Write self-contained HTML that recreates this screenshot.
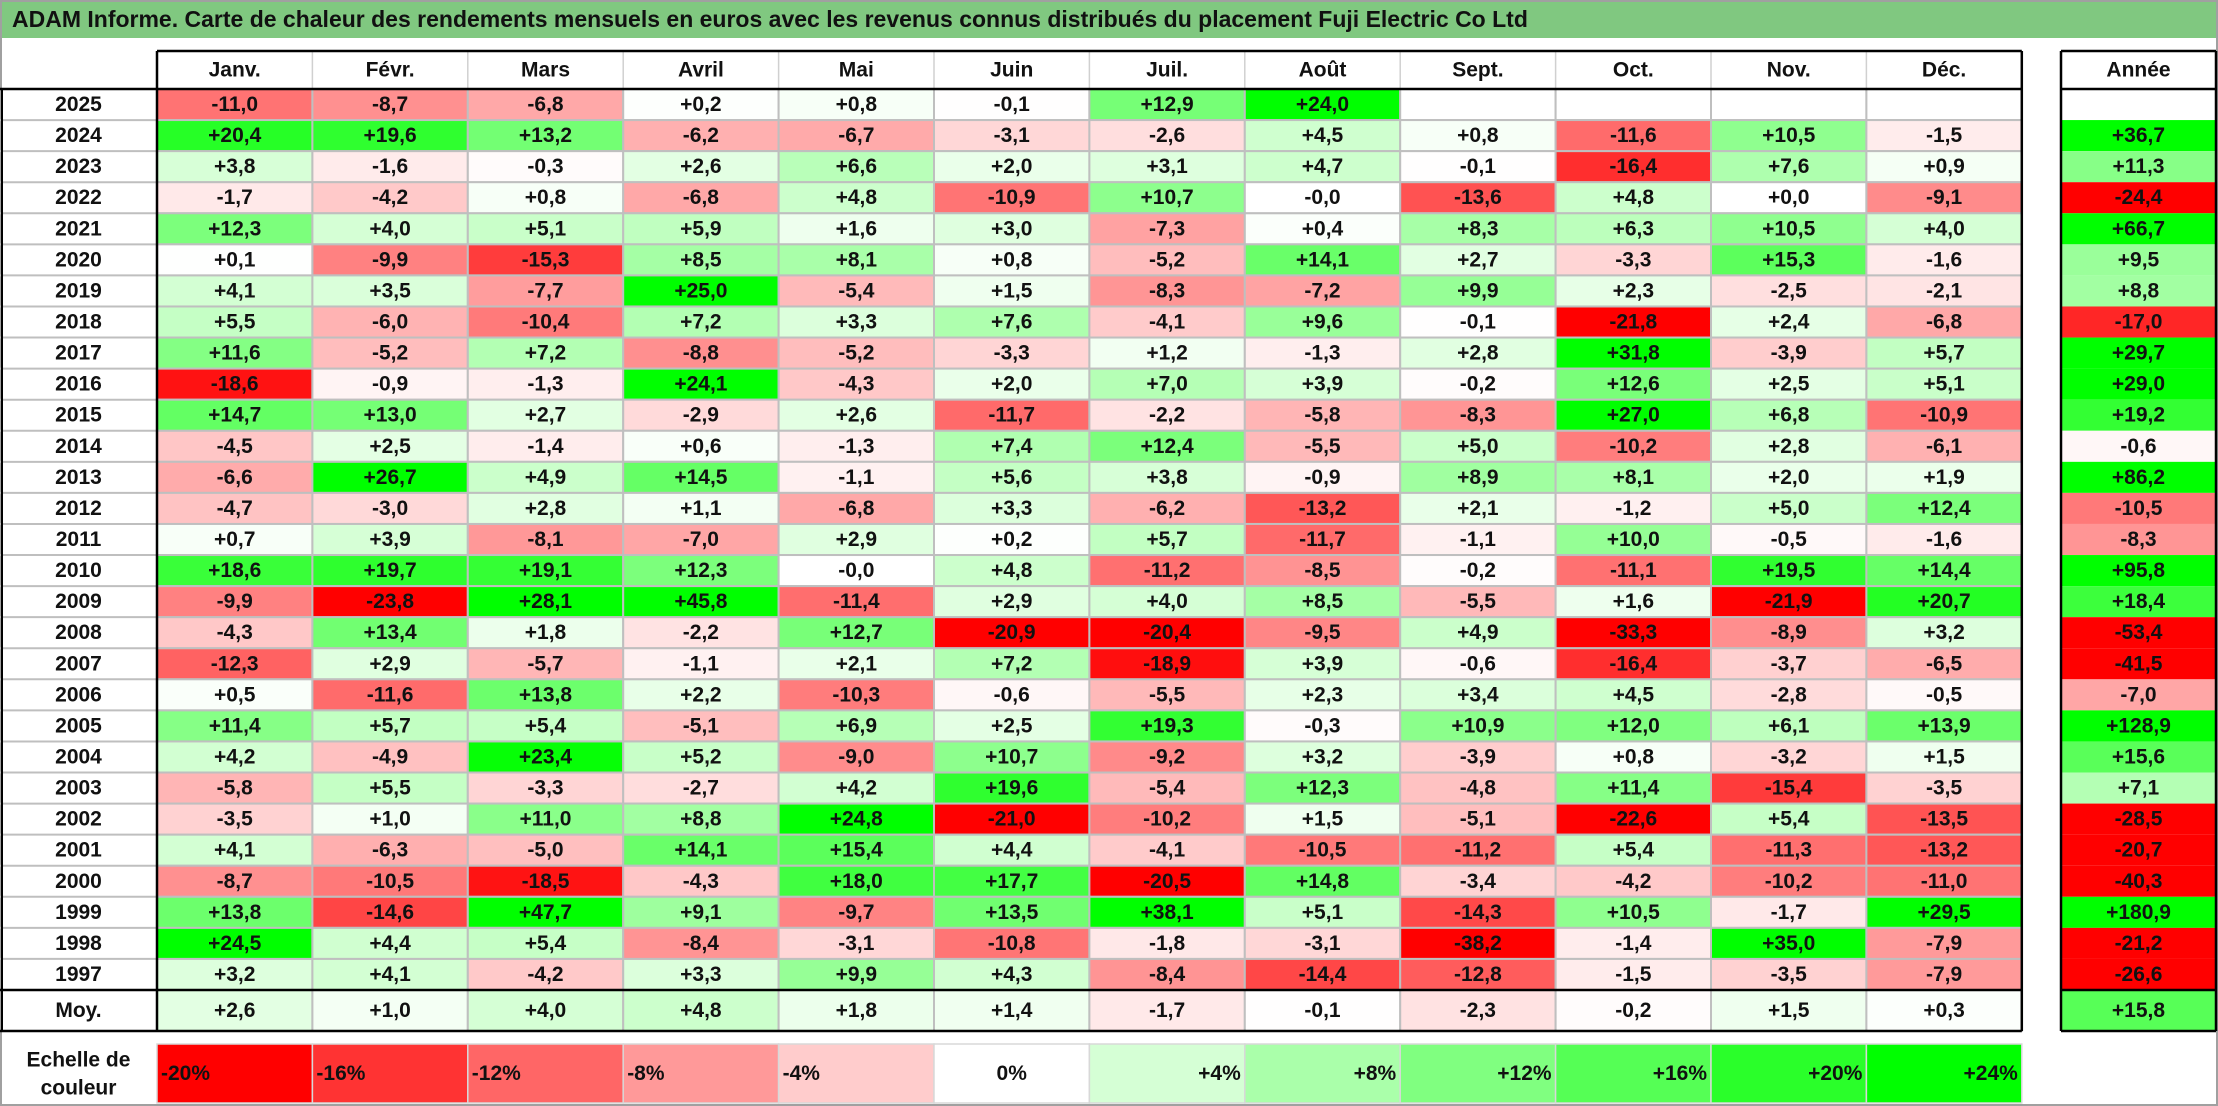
<!DOCTYPE html>
<html><head><meta charset="utf-8">
<style>
html,body{margin:0;padding:0;background:#fff;}
body{width:2218px;height:1106px;overflow:hidden;position:relative;font-family:"Liberation Sans",Arial,sans-serif;}
#frame{position:absolute;left:0;top:0;width:2214px;height:1102px;border:2px solid #a0a0a0;}
#title{position:absolute;left:2px;top:2px;width:2214px;height:36px;background:#80c880;}
#title span{position:absolute;left:10px;top:4px;font-size:23px;font-weight:bold;color:#111;white-space:nowrap;}
svg{position:absolute;left:0;top:0;}
svg text{font-family:"Liberation Sans",Arial,sans-serif;font-weight:bold;font-size:21px;fill:#111;}
</style></head><body>
<div id="frame"></div>
<div id="title"><span>ADAM Informe. Carte de chaleur des rendements mensuels en euros avec les revenus connus distribués du placement Fuji Electric Co Ltd</span></div>
<svg id="chart" width="2218" height="1106"></svg>
<script>
const months=["Janv.","Févr.","Mars","Avril","Mai","Juin","Juil.","Août","Sept.","Oct.","Nov.","Déc."];
const years=[2025,2024,2023,2022,2021,2020,2019,2018,2017,2016,2015,2014,2013,2012,2011,2010,2009,2008,2007,2006,2005,2004,2003,2002,2001,2000,1999,1998,1997];
const monthly=[
[-11.0,-8.7,-6.8,0.2,0.8,-0.1,12.9,24.0,null,null,null,null],
[20.4,19.6,13.2,-6.2,-6.7,-3.1,-2.6,4.5,0.8,-11.6,10.5,-1.5],
[3.8,-1.6,-0.3,2.6,6.6,2.0,3.1,4.7,-0.1,-16.4,7.6,0.9],
[-1.7,-4.2,0.8,-6.8,4.8,-10.9,10.7,-0,-13.6,4.8,0.0,-9.1],
[12.3,4.0,5.1,5.9,1.6,3.0,-7.3,0.4,8.3,6.3,10.5,4.0],
[0.1,-9.9,-15.3,8.5,8.1,0.8,-5.2,14.1,2.7,-3.3,15.3,-1.6],
[4.1,3.5,-7.7,25.0,-5.4,1.5,-8.3,-7.2,9.9,2.3,-2.5,-2.1],
[5.5,-6.0,-10.4,7.2,3.3,7.6,-4.1,9.6,-0.1,-21.8,2.4,-6.8],
[11.6,-5.2,7.2,-8.8,-5.2,-3.3,1.2,-1.3,2.8,31.8,-3.9,5.7],
[-18.6,-0.9,-1.3,24.1,-4.3,2.0,7.0,3.9,-0.2,12.6,2.5,5.1],
[14.7,13.0,2.7,-2.9,2.6,-11.7,-2.2,-5.8,-8.3,27.0,6.8,-10.9],
[-4.5,2.5,-1.4,0.6,-1.3,7.4,12.4,-5.5,5.0,-10.2,2.8,-6.1],
[-6.6,26.7,4.9,14.5,-1.1,5.6,3.8,-0.9,8.9,8.1,2.0,1.9],
[-4.7,-3.0,2.8,1.1,-6.8,3.3,-6.2,-13.2,2.1,-1.2,5.0,12.4],
[0.7,3.9,-8.1,-7.0,2.9,0.2,5.7,-11.7,-1.1,10.0,-0.5,-1.6],
[18.6,19.7,19.1,12.3,-0,4.8,-11.2,-8.5,-0.2,-11.1,19.5,14.4],
[-9.9,-23.8,28.1,45.8,-11.4,2.9,4.0,8.5,-5.5,1.6,-21.9,20.7],
[-4.3,13.4,1.8,-2.2,12.7,-20.9,-20.4,-9.5,4.9,-33.3,-8.9,3.2],
[-12.3,2.9,-5.7,-1.1,2.1,7.2,-18.9,3.9,-0.6,-16.4,-3.7,-6.5],
[0.5,-11.6,13.8,2.2,-10.3,-0.6,-5.5,2.3,3.4,4.5,-2.8,-0.5],
[11.4,5.7,5.4,-5.1,6.9,2.5,19.3,-0.3,10.9,12.0,6.1,13.9],
[4.2,-4.9,23.4,5.2,-9.0,10.7,-9.2,3.2,-3.9,0.8,-3.2,1.5],
[-5.8,5.5,-3.3,-2.7,4.2,19.6,-5.4,12.3,-4.8,11.4,-15.4,-3.5],
[-3.5,1.0,11.0,8.8,24.8,-21.0,-10.2,1.5,-5.1,-22.6,5.4,-13.5],
[4.1,-6.3,-5.0,14.1,15.4,4.4,-4.1,-10.5,-11.2,5.4,-11.3,-13.2],
[-8.7,-10.5,-18.5,-4.3,18.0,17.7,-20.5,14.8,-3.4,-4.2,-10.2,-11.0],
[13.8,-14.6,47.7,9.1,-9.7,13.5,38.1,5.1,-14.3,10.5,-1.7,29.5],
[24.5,4.4,5.4,-8.4,-3.1,-10.8,-1.8,-3.1,-38.2,-1.4,35.0,-7.9],
[3.2,4.1,-4.2,3.3,9.9,4.3,-8.4,-14.4,-12.8,-1.5,-3.5,-7.9]];
const annual=[null,36.7,11.3,-24.4,66.7,9.5,8.8,-17.0,29.7,29.0,19.2,-0.6,86.2,-10.5,-8.3,95.8,18.4,-53.4,-41.5,-7.0,128.9,15.6,7.1,-28.5,-20.7,-40.3,180.9,-21.2,-26.6];
const averages=[2.6,1.0,4.0,4.8,1.8,1.4,-1.7,-0.1,-2.3,-0.2,1.5,0.3];
const averageAnnual=15.8;
const scaleSteps=[-20,-16,-12,-8,-4,0,4,8,12,16,20,24];

const svg=document.getElementById('chart');
const NS='http://www.w3.org/2000/svg';
const X0=157,CW=155.4,HT=51,HB=89,RH=(990-89)/29,MOYB=1031,AX=2061,AW=155,LY=1044,LH=59;
function colX(i){return X0+i*CW;}
function rowY(i){return HB+i*RH;}
function color(v){
  if(v===null)return '#ffffff';
  let r=255,g=255,b=255;
  if(v>0){const t=Math.min(v/24,1);r=Math.round(255*(1-t));b=r;}
  else if(v<0){const t=Math.min(-v/20,1);g=Math.round(255*(1-t));b=g;}
  return `rgb(${r},${g},${b})`;
}
function fmt(v){
  if(v===null)return '';
  const neg=v<0||Object.is(v,-0);
  return (neg?'-':'+')+Math.abs(v).toFixed(1).replace('.',',');
}
function rect(x,y,w,h,fill,stroke,sw){
  const r=document.createElementNS(NS,'rect');
  r.setAttribute('x',x);r.setAttribute('y',y);r.setAttribute('width',w);r.setAttribute('height',h);
  r.setAttribute('fill',fill);
  if(stroke){r.setAttribute('stroke',stroke);r.setAttribute('stroke-width',sw);}
  svg.appendChild(r);return r;
}
function text(x,y,s,anchor){
  const t=document.createElementNS(NS,'text');
  t.setAttribute('x',x);t.setAttribute('y',y);t.setAttribute('text-anchor',anchor||'middle');
  t.setAttribute('dominant-baseline','central');
  t.textContent=s;svg.appendChild(t);return t;
}
function line(x1,y1,x2,y2,c,w){
  const l=document.createElementNS(NS,'line');
  l.setAttribute('x1',x1);l.setAttribute('y1',y1);l.setAttribute('x2',x2);l.setAttribute('y2',y2);
  l.setAttribute('stroke',c);l.setAttribute('stroke-width',w);
  
  
  svg.appendChild(l);
}
months.forEach((m,i)=>{
  const t=text(colX(i)+CW/2,(HT+HB)/2,m);
  
  
  if(i>0)line(colX(i),HT,colX(i),HB,'#d0d0d0',1.5);
});
const ah=text(AX+AW/2,(HT+HB)/2,'Année');


years.forEach((yr,r)=>{
  const y=rowY(r);
  const lab=text(X0/2,y+RH/2,String(yr));
  
  
  monthly[r].forEach((v,c)=>{
    const cell=rect(colX(c),y,CW,RH,color(v),'#bfbfbf',2);
    
    
    if(v!==null){const t=text(colX(c)+CW/2,y+RH/2,fmt(v));
      
      }
  });
  const a=annual[r];
  const ac=rect(AX,y,AW,RH,color(a),null,0);
  
  
  if(a!==null){const t=text(AX+AW/2,y+RH/2,fmt(a));
    
    }
  if(r>0)line(0,y,X0,y,'#bfbfbf',2);
});
const moyL=text(X0/2,(990+MOYB)/2,'Moy.');


averages.forEach((v,c)=>{
  const cell=rect(colX(c),990,CW,MOYB-990,color(v),'#bfbfbf',2);
  
  
  const t=text(colX(c)+CW/2,(990+MOYB)/2,fmt(v));
  
  
});
const amc=rect(AX,990,AW,MOYB-990,color(averageAnnual),null,0);


const amt=text(AX+AW/2,(990+MOYB)/2,fmt(averageAnnual));


const XE=colX(12);
line(X0,HT,XE,HT,'#000',2.5);
line(0,HB,XE,HB,'#000',2.5);
line(X0,HT,X0,MOYB,'#000',2.5);
line(XE,HT,XE,MOYB,'#000',2.5);
line(0,990,XE,990,'#000',2.5);
line(0,MOYB,XE,MOYB,'#000',2.5);
line(2,HB,2,MOYB,'#000',2);
line(AX,HT,AX+AW,HT,'#000',2.5);
line(AX,HB,AX+AW,HB,'#000',2.5);
line(AX,990,AX+AW,990,'#000',2.5);
line(AX,MOYB,AX+AW,MOYB,'#000',2.5);
line(AX,HT,AX,MOYB,'#000',2.5);
line(AX+AW,HT,AX+AW,MOYB,'#000',2.5);
const l1=text(X0/2,LY+16,'Echelle de');


const l2=text(X0/2,LY+44,'couleur');


scaleSteps.forEach((s,i)=>{
  const b=rect(colX(i),LY,CW,LH,color(s),'#d8d8d8',1.5);
  
  
  const lab=(s>0?'+':'')+s+'%';
  let t;
  if(s<0)t=text(colX(i)+4,LY+LH/2,lab,'start');
  else if(s===0)t=text(colX(i)+CW/2,LY+LH/2,lab,'middle');
  else t=text(colX(i)+CW-4,LY+LH/2,lab,'end');
  
  
});
</script>
</body></html>
